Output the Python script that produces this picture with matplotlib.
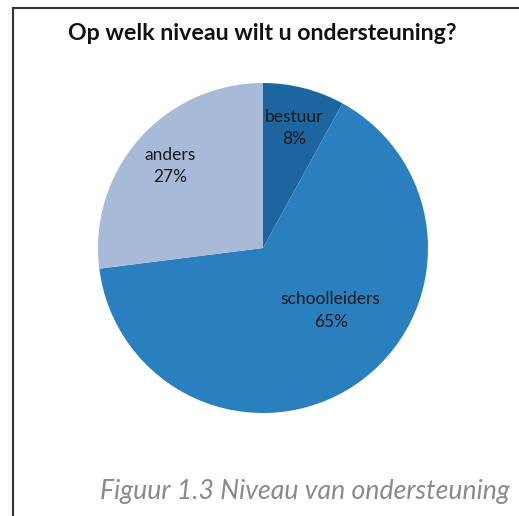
import matplotlib.pyplot as plt
from matplotlib.lines import Line2D

categories = ['bestuur', 'schoolleiders', 'anders']
percentages = [8, 65, 27]
colors = ['#1d65a0', '#2a7fbf', '#a7bbd9']

W, H = 519, 516
fig = plt.figure(figsize=(W / 100, H / 100), dpi=100)

# pie axes: centre (263, 248) px, radius 165 px
cx, cy, r = 263, 248, 165
ax = fig.add_axes([(cx - r) / W, (H - cy - r) / H, 2 * r / W, 2 * r / H])
labels = [f'{c}\n{p}%' for c, p in zip(categories, percentages)]
wedges, texts = ax.pie(percentages, labels=labels, colors=colors, startangle=90,
                       counterclock=False, labeldistance=0.75, radius=1,
                       wedgeprops=dict(linewidth=0),
                       textprops=dict(fontsize=12.5, family='Lato', color='#1a1a1a',
                                      ha='center', va='center', linespacing=1.5))
# Excel puts the big label closer to the centre
texts[1].set_position((0.41, -0.38))
ax.set_xlim(-1, 1)
ax.set_ylim(-1, 1)
ax.set_aspect('equal')
ax.axis('off')

fig.text(262 / W, 1 - 33 / H, 'Op welk niveau wilt u ondersteuning?', ha='center', va='center',
         fontsize=16.7, fontweight='bold', family='Lato', color='#111111')
fig.text(510 / W, 1 - 491 / H, 'Figuur 1.3 Niveau van ondersteuning', ha='right', va='center',
         fontsize=19.2, style='italic', family='Lato', color='#8a8a8a')

# frame lines (top and left)
x0, y0 = 13 / W, 1 - 8 / H
fig.add_artist(Line2D([x0, 1], [y0, y0], color='#333333', linewidth=1.5))
fig.add_artist(Line2D([x0, x0], [0, y0], color='#333333', linewidth=1.5))

fig.savefig('out.png', dpi=100)
